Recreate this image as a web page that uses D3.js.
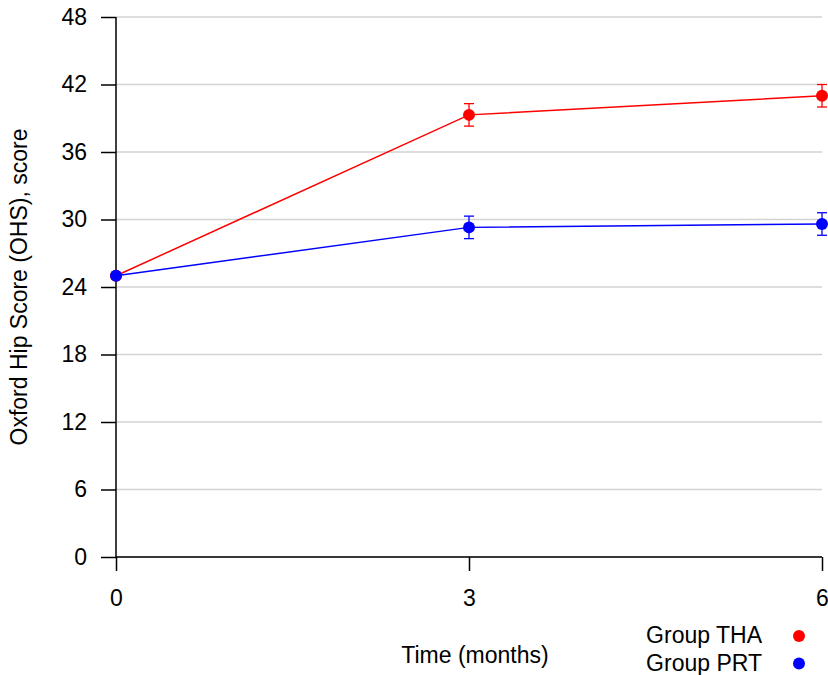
<!DOCTYPE html>
<html>
<head>
<meta charset="utf-8">
<script src="https://cdn.jsdelivr.net/npm/d3@7"></script>
<style>
  html, body { margin: 0; padding: 0; background: #fff; }
  svg { display: block; font-family: "Liberation Sans", Arial, sans-serif; }
</style>
</head>
<body>
<svg id="chart" width="828" height="675"></svg>
<script>
const timePoints = [0, 3, 6];
const thaMean = [25.0, 39.3, 41.0];
const thaErr  = [0, 1.0, 1.0];
const prtMean = [25.0, 29.3, 29.6];
const prtErr  = [0, 1.0, 1.0];
const yTicks = [0, 6, 12, 18, 24, 30, 36, 42, 48];
const xTicks = [0, 3, 6];
const seriesNames = ["Group THA", "Group PRT"];
const seriesColors = ["#ff0000", "#0000ff"];

const svg = d3.select("#chart");
const x = d3.scaleLinear().domain([0, 6]).range([116, 822]);
const y = d3.scaleLinear().domain([0, 48]).range([557, 17]);
const FONT = "Liberation Sans, Arial, sans-serif";

// gridlines
svg.append("g").selectAll("line").data(yTicks).join("line")
  .attr("x1", x(0)).attr("x2", x(6))
  .attr("y1", d => y(d)).attr("y2", d => y(d))
  .attr("stroke", "#d3d3d3").attr("stroke-width", 1.3);

// y axis
const yAxis = svg.append("g").attr("transform", `translate(${x(0)},0)`)
  .call(d3.axisLeft(y).tickValues(yTicks).tickSize(15).tickPadding(14).tickFormat(d3.format("d")));
yAxis.select(".domain").remove();
yAxis.selectAll(".tick line").attr("stroke", "#000").attr("stroke-width", 1.5);
yAxis.selectAll("text").attr("font-size", 23).attr("fill", "#000").attr("font-family", FONT);
svg.append("line").attr("x1", x(0)).attr("x2", x(0)).attr("y1", y(48)).attr("y2", y(0))
  .attr("stroke", "#000").attr("stroke-width", 1.5);

// x axis
const xAxis = svg.append("g").attr("transform", `translate(0,${y(0)})`)
  .call(d3.axisBottom(x).tickValues(xTicks).tickSize(14).tickPadding(19).tickFormat(d3.format("d")));
xAxis.select(".domain").remove();
xAxis.selectAll(".tick line").attr("stroke", "#000").attr("stroke-width", 1.5);
xAxis.selectAll("text").attr("font-size", 23).attr("fill", "#000").attr("font-family", FONT);
svg.append("line").attr("x1", x(0)).attr("x2", x(6)).attr("y1", y(0)).attr("y2", y(0))
  .attr("stroke", "#000").attr("stroke-width", 1.5);

// series
const series = [
  { name: seriesNames[0], color: seriesColors[0], mean: thaMean, err: thaErr },
  { name: seriesNames[1], color: seriesColors[1], mean: prtMean, err: prtErr }
];
const line = d3.line().x(d => x(d.t)).y(d => y(d.m));
series.forEach(s => {
  const pts = timePoints.map((t, i) => ({ t, m: s.mean[i], e: s.err[i] }));
  const g = svg.append("g");
  g.append("path").attr("d", line(pts)).attr("fill", "none")
    .attr("stroke", s.color).attr("stroke-width", 1.5);
  pts.filter(p => p.e > 0).forEach(p => {
    g.append("line").attr("x1", x(p.t)).attr("x2", x(p.t))
      .attr("y1", y(p.m - p.e)).attr("y2", y(p.m + p.e))
      .attr("stroke", s.color).attr("stroke-width", 1.3);
    [p.m - p.e, p.m + p.e].forEach(v => {
      g.append("line").attr("x1", x(p.t) - 5).attr("x2", x(p.t) + 5)
        .attr("y1", y(v)).attr("y2", y(v))
        .attr("stroke", s.color).attr("stroke-width", 1.3);
    });
  });
  g.selectAll("circle").data(pts).join("circle")
    .attr("cx", d => x(d.t)).attr("cy", d => y(d.m)).attr("r", 6)
    .attr("fill", s.color);
});

// axis titles
svg.append("text").attr("x", 475).attr("y", 663).attr("text-anchor", "middle")
  .attr("font-size", 23).attr("fill", "#000").text("Time (months)");
svg.append("text").attr("transform", "translate(27,287) rotate(-90)")
  .attr("text-anchor", "middle").attr("font-size", 23).attr("fill", "#000")
  .text("Oxford Hip Score (OHS), score");

// legend
series.forEach((s, i) => {
  const ly = 636 + i * 27.5;
  svg.append("text").attr("x", 762).attr("y", ly + 7).attr("text-anchor", "end")
    .attr("font-size", 23).attr("fill", "#000").text(s.name);
  svg.append("circle").attr("cx", 799).attr("cy", ly).attr("r", 6).attr("fill", s.color);
});
</script>
</body>
</html>
